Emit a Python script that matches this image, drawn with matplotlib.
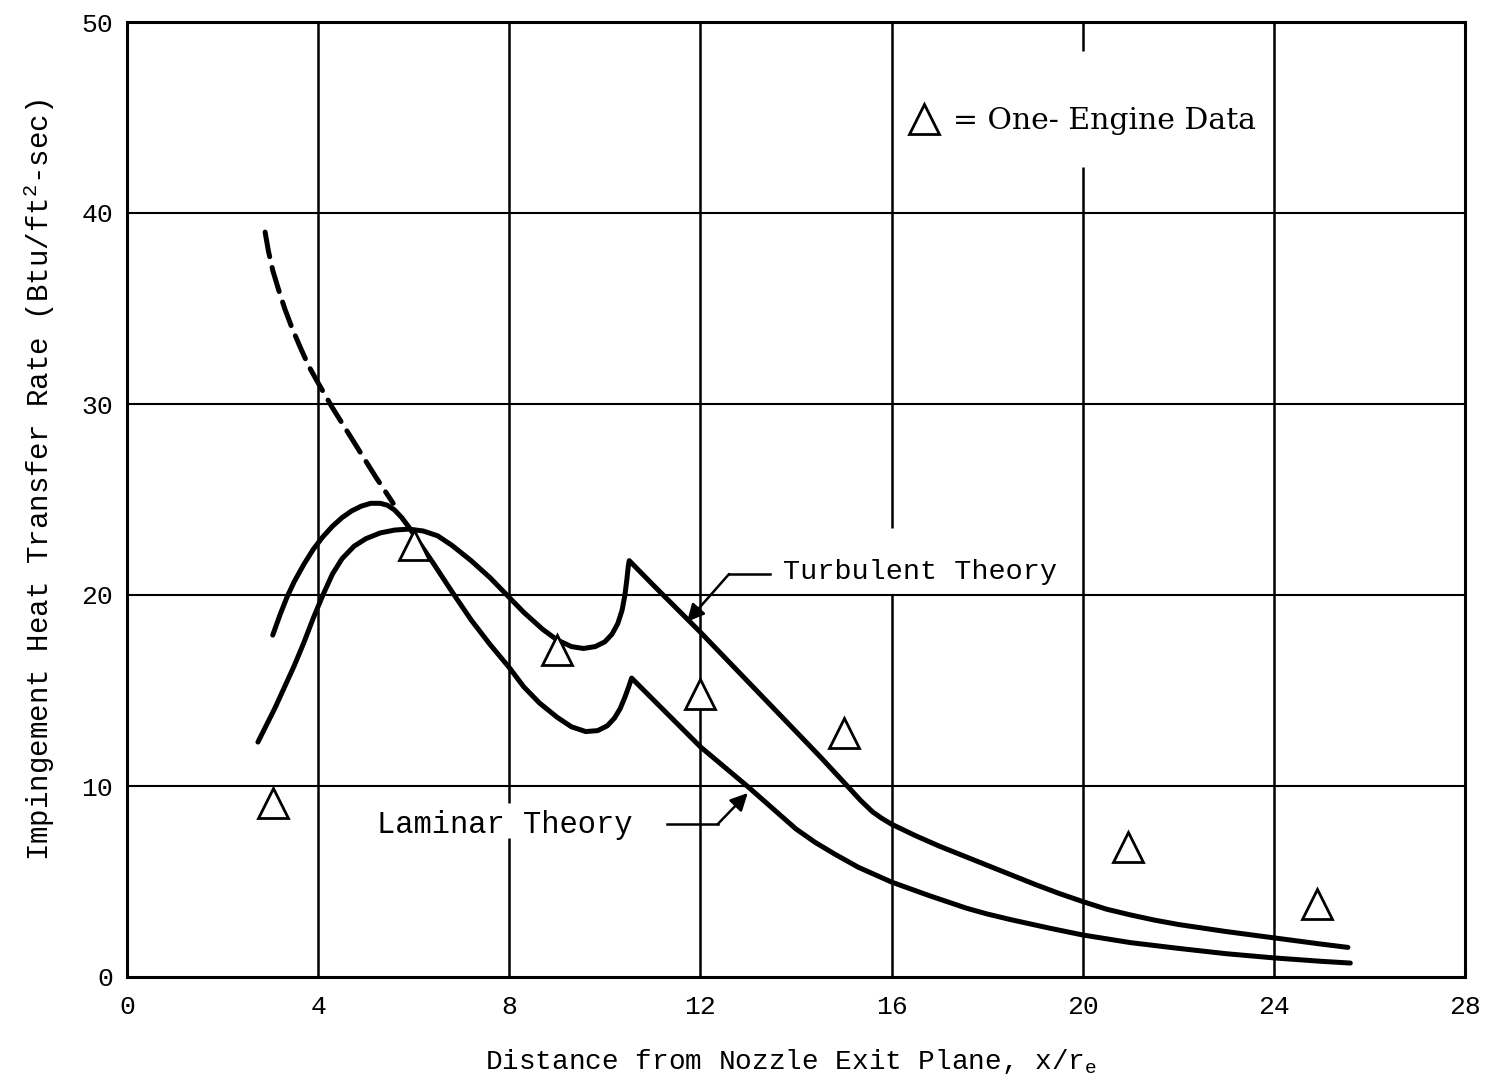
import matplotlib
matplotlib.use("Agg")
import matplotlib.pyplot as plt

plt.rcParams["font.family"] = ["Liberation Mono", "DejaVu Sans"]
plt.rcParams["mathtext.fontset"] = "custom"
plt.rcParams["mathtext.rm"] = "Liberation Mono"
plt.rcParams["mathtext.it"] = "Liberation Mono"
plt.rcParams["lines.scale_dashes"] = False

# One-engine measurements
data_x = [3.05, 6.0, 9.0, 12.0, 15.0, 20.94, 24.9]
data_y = [9.1, 22.6, 17.1, 14.8, 12.8, 6.8, 3.8]

# Turbulent theory curve
turb_x = [2.74, 2.9, 3.1, 3.3, 3.5, 3.7, 3.9, 4.1, 4.3, 4.5, 4.75, 5.0, 5.3,
          5.6, 5.9, 6.2, 6.5, 6.8, 7.2, 7.6, 7.95, 8.3, 8.7, 9.0, 9.3, 9.55,
          9.8, 10.0, 10.15, 10.27, 10.36, 10.42, 10.46, 10.49, 10.51,
          11.0, 11.5, 12.0, 12.5, 13.0, 13.5, 14.0, 14.5, 15.0, 15.35, 15.6,
          15.8, 16.0, 16.5, 17.0, 17.5, 18.0, 18.5, 19.0, 19.5, 20.0, 20.5,
          21.0, 21.5, 22.0, 23.0, 24.0, 25.0, 25.55]
turb_y = [12.3, 13.1, 14.1, 15.2, 16.3, 17.5, 18.8, 20.0, 21.1, 21.9, 22.55, 22.95, 23.25,
          23.4, 23.45, 23.35, 23.1, 22.6, 21.8, 20.9, 20.0, 19.1, 18.2, 17.65, 17.3, 17.2,
          17.3, 17.55, 17.95, 18.5, 19.2, 20.0, 20.8, 21.5, 21.8,
          20.55, 19.3, 18.05, 16.75, 15.45, 14.15, 12.85, 11.55, 10.2, 9.25, 8.65,
          8.3, 8.0, 7.4, 6.85, 6.35, 5.85, 5.35, 4.85, 4.38, 3.95, 3.55,
          3.25, 2.98, 2.75, 2.38, 2.05, 1.72, 1.55]

# Laminar theory curve
lam_x = [3.05, 3.2, 3.35, 3.5, 3.7, 3.9, 4.1, 4.3, 4.5, 4.7, 4.9, 5.1, 5.3,
         5.45, 5.6, 5.75, 5.9, 6.1, 6.4, 6.82, 7.2, 7.6, 8.0, 8.3, 8.63, 9.0,
         9.3, 9.6, 9.85, 10.05, 10.2, 10.32, 10.42, 10.5, 10.56, 10.8, 11.0,
         11.5, 12.0, 12.5, 13.0, 13.5, 14.0, 14.4, 14.8, 15.3, 16.0, 16.8,
         17.57, 18.0, 18.5, 19.3, 20.0, 21.0, 22.0, 23.0, 24.0, 25.0, 25.6]
lam_y = [17.9, 18.95, 19.9, 20.7, 21.6, 22.4, 23.05, 23.6, 24.05, 24.4, 24.65, 24.8, 24.8,
         24.7, 24.45, 24.05, 23.55, 22.8, 21.7, 20.1, 18.7, 17.4, 16.2, 15.2, 14.35, 13.6,
         13.1, 12.85, 12.9, 13.15, 13.55, 14.05, 14.65, 15.2, 15.65, 15.05, 14.55,
         13.3, 12.05, 11.0, 9.95, 8.85, 7.75, 7.05, 6.45, 5.75, 4.97, 4.25,
         3.6, 3.3, 3.0, 2.56, 2.2, 1.8, 1.5, 1.22, 1.0, 0.82, 0.73]

# Extrapolation of the laminar curve toward the nozzle
ext_x = [2.89, 2.96, 3.05, 3.17, 3.3, 3.45, 3.62, 3.8, 4.0, 4.3, 4.6, 4.9, 5.2, 5.57]
ext_y = [39.0, 38.0, 37.0, 36.0, 35.0, 34.0, 33.0, 32.0, 31.1, 29.8, 28.6, 27.4, 26.2, 24.8]

x_ticks = [0, 4, 8, 12, 16, 20, 24, 28]
y_ticks = [0, 10, 20, 30, 40, 50]

fig = plt.figure(figsize=(14.87, 10.87), dpi=100)
ax = fig.add_axes([127 / 1487, 110 / 1087, 1338 / 1487, 955 / 1087])
ax.set_xlim(0, 28)
ax.set_ylim(0, 50)

# grid drawn in pieces so the lettering sits in clear space
for y in y_ticks[1:-1]:
    ax.hlines(y, 0, 28, colors="black", lw=1.5, zorder=1)
v_segments = {
    4: [(0, 50)],
    8: [(0, 7.3), (9.1, 50)],
    12: [(0, 50)],
    16: [(0, 20.0), (23.5, 50)],
    20: [(0, 42.4), (48.5, 50)],
    24: [(0, 50)],
}
for x, segs in v_segments.items():
    for y0, y1 in segs:
        ax.vlines(x, y0, y1, colors="black", lw=1.8, zorder=1)

ax.plot(turb_x, turb_y, color="black", lw=3.6, solid_joinstyle="round",
        solid_capstyle="round", zorder=3)
ax.plot(lam_x, lam_y, color="black", lw=3.6, solid_joinstyle="round",
        solid_capstyle="round", zorder=3)
ax.plot(ext_x, ext_y, color="black", lw=3.6, dashes=(18, 8),
        dash_capstyle="round", zorder=3)
ax.plot(data_x, data_y, linestyle="none", marker="^", ms=21, mfc="white",
        mec="black", mew=2.0, zorder=4, label="= One- Engine Data")

leg = ax.legend(loc="center left", bbox_to_anchor=(0.5737, 0.896), frameon=False,
                handlelength=1.0, handletextpad=0.45, borderpad=0,
                prop={"family": "DejaVu Serif", "size": 21.5})

# curve labels with leader arrows
ax.text(13.72, 21.2, "Turbulent Theory", fontsize=20.5, ha="left", va="center")
ax.plot([13.45, 12.6], [21.1, 21.1], color="black", lw=1.8)
ax.annotate("", xy=(11.72, 18.6), xytext=(12.6, 21.1),
            arrowprops=dict(arrowstyle="-|>", color="black", lw=1.8,
                            mutation_scale=26, shrinkA=0, shrinkB=0))

ax.text(5.23, 7.95, "Laminar Theory", fontsize=22, ha="left", va="center")
ax.plot([11.3, 12.36], [8.0, 8.0], color="black", lw=1.8)
ax.annotate("", xy=(12.99, 9.63), xytext=(12.36, 8.0),
            arrowprops=dict(arrowstyle="-|>", color="black", lw=1.8,
                            mutation_scale=26, shrinkA=0, shrinkB=0))

ax.set_xticks(x_ticks)
ax.set_yticks(y_ticks)
ax.set_xticklabels([str(v) for v in x_ticks])
ax.set_yticklabels([str(v) for v in y_ticks])
ax.tick_params(length=0, labelsize=19)
ax.tick_params(axis="x", pad=13)
ax.tick_params(axis="y", pad=10)
for side in ["left", "bottom", "right", "top"]:
    ax.spines[side].set_linewidth(2.2)

ax.set_xlabel("Distance from Nozzle Exit Plane, x/r$_{e}$", fontsize=20)
ax.xaxis.set_label_coords(0.4963, -0.073)
ax.set_ylabel("Impingement Heat Transfer Rate (Btu/ft$^{2}$-sec)", fontsize=21)
ax.yaxis.set_label_coords(-0.052, 0.52)

fig.savefig("out.png", dpi=100)
